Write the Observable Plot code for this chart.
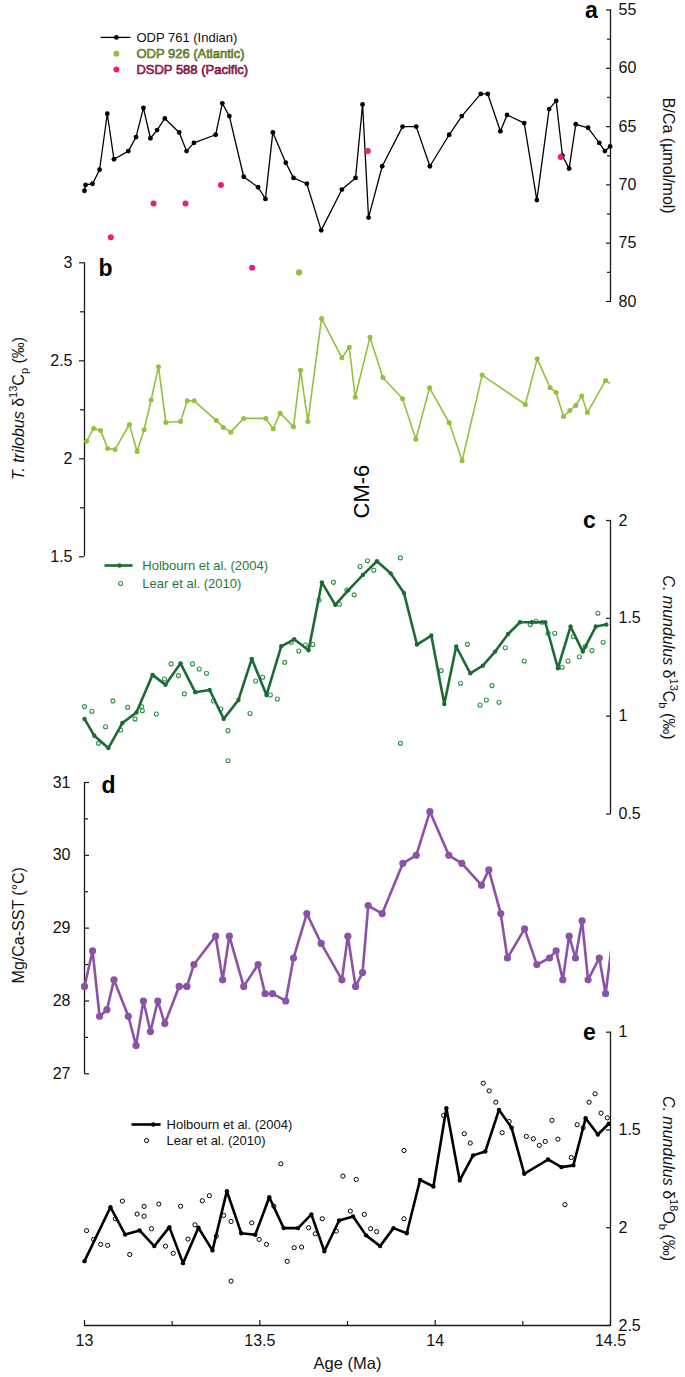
<!DOCTYPE html>
<html><head><meta charset="utf-8">
<script src="https://cdn.jsdelivr.net/npm/d3@7"></script>
<script src="https://cdn.jsdelivr.net/npm/@observablehq/plot@0.6"></script>
<style>
html,body{margin:0;padding:0;background:#fff;}
#chart{position:relative;width:685px;height:1377px;}
#chart svg{position:absolute;left:0;top:0;}
</style></head><body><div id="chart"></div>
<script>
// ---------- DATA ----------
// Panel a: B/Ca (µmol/mol)
const odp761Age = [13.0,13.003,13.023,13.043,13.065,13.084,13.125,13.147,13.168,13.188,13.207,13.229,13.27,13.291,13.312,13.374,13.393,13.413,13.454,13.495,13.516,13.537,13.574,13.596,13.634,13.675,13.734,13.773,13.793,13.81,13.849,13.907,13.946,13.985,14.04,14.076,14.13,14.15,14.186,14.205,14.254,14.29,14.325,14.345,14.363,14.382,14.401,14.436,14.468,14.484,14.499];
const odp761BCa = [70.5,70.0,69.9,68.7,63.9,67.8,67.1,65.9,63.4,66.0,65.3,64.3,65.5,67.1,66.4,65.7,63.0,64.1,69.3,70.2,71.2,65.5,68.1,69.4,69.9,73.9,70.4,69.4,63.1,72.8,68.4,65.0,65.0,68.4,65.7,64.1,62.2,62.2,65.4,64.0,64.7,71.3,63.5,62.8,67.5,68.6,64.8,65.1,66.4,67.1,66.7];
const dsdp588Age = [13.075,13.197,13.288,13.389,13.478,13.808,14.358];
const dsdp588BCa = [74.5,71.6,71.6,70.0,77.1,67.1,67.6];
const odp926Age = [13.612];
const odp926BCa = [77.5];
const aTicks = [55,60,65,70,75,80], aMinor = [57.5,62.5,67.5,72.5,77.5];

// Panel b: T. trilobus d13C
const bAge = [13.006,13.026,13.046,13.066,13.087,13.128,13.15,13.17,13.19,13.211,13.232,13.274,13.293,13.313,13.376,13.396,13.417,13.454,13.517,13.538,13.558,13.596,13.616,13.637,13.676,13.734,13.755,13.772,13.814,13.851,13.907,13.945,13.984,14.04,14.077,14.134,14.257,14.291,14.328,14.345,14.366,14.384,14.401,14.418,14.434,14.486,14.51];
const bD13C = [2.09,2.155,2.145,2.053,2.047,2.175,2.037,2.148,2.30,2.47,2.185,2.19,2.296,2.296,2.195,2.16,2.136,2.206,2.206,2.153,2.233,2.163,2.452,2.19,2.716,2.515,2.569,2.314,2.62,2.415,2.306,2.10,2.362,2.184,1.99,2.427,2.277,2.51,2.362,2.338,2.216,2.246,2.272,2.321,2.236,2.40,2.37];
const bTicks = [3,2.5,2,1.5], bMinor = [2.75,2.25,1.75];

// Panel c: C. mundulus d13C
const cHolAge = [13.0,13.028,13.068,13.108,13.148,13.194,13.231,13.274,13.316,13.357,13.397,13.439,13.477,13.519,13.561,13.598,13.639,13.677,13.715,13.752,13.794,13.834,13.873,13.911,13.948,13.989,14.026,14.06,14.1,14.136,14.171,14.208,14.242,14.276,14.314,14.35,14.386,14.421,14.458,14.488];
const cHolD13C = [0.986,0.900,0.837,0.965,1.019,1.211,1.160,1.270,1.122,1.134,0.986,1.083,1.293,1.108,1.357,1.393,1.337,1.684,1.569,1.643,1.722,1.792,1.730,1.630,1.366,1.412,1.062,1.356,1.219,1.258,1.330,1.420,1.480,1.480,1.480,1.245,1.458,1.330,1.458,1.468];
const cLearAge = [13.0,13.021,13.04,13.06,13.081,13.103,13.123,13.144,13.163,13.165,13.205,13.228,13.247,13.268,13.285,13.308,13.327,13.348,13.368,13.389,13.409,13.409,13.472,13.488,13.508,13.53,13.55,13.571,13.59,13.611,13.63,13.651,13.669,13.71,13.727,13.748,13.769,13.786,13.807,13.825,13.901,13.901,14.017,14.072,14.092,14.128,14.146,14.162,14.182,14.2,14.254,14.271,14.288,14.305,14.322,14.341,14.362,14.379,14.394,14.411,14.428,14.447,14.464,14.479];
const cLearD13C = [1.049,1.025,0.861,0.946,1.078,0.929,1.045,0.986,1.049,1.028,1.011,1.19,1.267,1.207,1.114,1.267,1.241,1.219,1.079,1.037,0.926,0.772,1.014,1.18,1.199,1.108,1.088,1.275,1.378,1.333,1.364,1.366,1.594,1.684,1.572,1.645,1.620,1.765,1.794,1.746,1.809,0.861,1.233,1.168,1.367,1.057,1.083,1.156,1.071,1.350,1.282,1.468,1.485,1.480,1.424,1.424,1.250,1.282,1.407,1.304,1.357,1.335,1.526,1.378];
const cTicks = [2,1.5,1,0.5];

// Panel d: Mg/Ca-SST (°C)
const dAge = [13.0,13.023,13.043,13.064,13.084,13.125,13.147,13.168,13.188,13.209,13.229,13.27,13.292,13.312,13.374,13.394,13.413,13.454,13.495,13.515,13.536,13.574,13.596,13.634,13.675,13.734,13.751,13.773,13.793,13.809,13.849,13.908,13.946,13.985,14.039,14.076,14.132,14.153,14.187,14.206,14.255,14.29,14.326,14.345,14.364,14.382,14.4,14.419,14.436,14.468,14.486,14.51];
const dSST = [28.20,28.69,27.79,27.88,28.29,27.79,27.39,28.0,27.58,28.0,27.69,28.20,28.20,28.50,28.89,28.29,28.89,28.20,28.50,28.10,28.10,28.0,28.59,29.20,28.79,28.29,28.89,28.20,28.39,29.31,29.20,29.89,30.0,30.60,30.0,29.89,29.59,29.80,29.20,28.59,28.99,28.50,28.59,28.69,28.29,28.89,28.59,29.10,28.29,28.59,28.10,29.0];
const dTicks = [31,30,29,28,27], dMinor = [30.5,29.5,28.5,27.5];

// Panel e: C. mundulus d18O
const eHolAge = [13.0,13.074,13.116,13.157,13.199,13.242,13.281,13.325,13.365,13.406,13.447,13.487,13.527,13.568,13.609,13.647,13.684,13.726,13.766,13.803,13.843,13.881,13.919,13.957,13.995,14.032,14.07,14.108,14.143,14.182,14.218,14.254,14.322,14.36,14.394,14.429,14.464,14.495];
const eHolD18O = [2.171,1.895,2.035,2.014,2.094,1.997,2.181,2.0,2.116,1.813,2.028,2.036,1.844,2.002,2.002,1.932,2.12,1.963,1.942,2.039,2.094,2.002,2.028,1.755,1.789,1.389,1.758,1.630,1.610,1.397,1.489,1.724,1.651,1.690,1.681,1.440,1.523,1.468];
const eLearAge = [13.006,13.026,13.046,13.066,13.088,13.108,13.129,13.15,13.17,13.17,13.191,13.212,13.231,13.253,13.274,13.295,13.315,13.336,13.356,13.376,13.397,13.418,13.418,13.477,13.498,13.519,13.54,13.56,13.578,13.598,13.619,13.639,13.658,13.678,13.718,13.737,13.758,13.775,13.798,13.816,13.833,13.911,13.911,14.024,14.083,14.1,14.137,14.154,14.173,14.191,14.211,14.26,14.28,14.297,14.314,14.333,14.35,14.37,14.388,14.405,14.422,14.439,14.456,14.473,14.491];
const eLearD18O = [2.015,2.06,2.085,2.09,1.954,1.864,2.137,1.930,1.891,1.941,2.005,1.879,2.094,2.131,1.890,2.058,1.985,1.862,1.836,2.043,1.937,1.968,2.273,1.975,2.06,2.085,1.890,1.673,2.172,2.102,2.099,2.0,2.031,1.954,2.017,1.736,1.915,1.753,1.932,2.005,2.02,1.954,1.605,1.426,1.519,1.567,1.261,1.300,1.358,1.514,1.457,1.533,1.545,1.579,1.559,1.451,1.547,1.882,1.641,1.473,1.489,1.358,1.315,1.414,1.438];
const eTicks = [1,1.5,2,2.5];

const xTicks = [13,13.5,14,14.5], xMinor = [13.25,13.75,14.25];
const xLabels = ["13","13.5","14","14.5"];

// ---------- BUILD ----------
const W = 685, H = 1377;
const FONT = "'Liberation Sans', Arial, Helvetica, sans-serif";
const AX = "#1a1a1a";
const TICKFS = 16, TITLEFS = 16;
const zip = (a, v) => a.map((d, i) => ({age: d, v: v[i]}));
const inDomain = d => d.age <= 14.5;
const fmt = d => String(d);

const COL = {
  pink: "#ec1c7a", lime: "#93c13e", dkgreen: "#1c6b34", green: "#2e9447",
  purple: "#8b52a8"
};

function panel(y, marks, opts = {}) {
  return Plot.plot({
    width: W, height: H,
    marginLeft: 84, marginRight: 75, marginTop: 0, marginBottom: opts.marginBottom ?? 0,
    x: Object.assign({domain: [13, 14.5], range: [84, 610]}, opts.xAxis ? {} : {axis: null}),
    y: y,
    style: {background: "transparent", fontFamily: FONT, fontSize: TICKFS + "px", overflow: "visible", color: "#111"},
    marks
  });
}
const K = v => () => v;

// axis helpers
function yAxis(anchor, ticks, minor, size, pad, lo, hi) {
  const edge = anchor === "right" ? 14.5 : 13;
  const m = [
    Plot.ruleX([edge], {y1: lo, y2: hi, stroke: AX, strokeWidth: 1.3}),
    Plot.axisY({anchor, ticks, tickFormat: fmt, tickSize: size, tickPadding: pad, label: null, fontSize: TICKFS, stroke: AX, strokeWidth: 1.2})
  ];
  if (minor) m.push(Plot.axisY({anchor, ticks: minor, tickSize: size * 0.8, fill: "none", label: null, stroke: AX, strokeWidth: 1.2}));
  return m;
}
function title(txt, x, y, dx, rot) {
  return Plot.text([txt], {x: K(x), y: K(y), dx, rotate: rot, text: d => d, fontSize: TITLEFS, fill: "#111"});
}
function letter(txt, x, y, dx, dy) {
  return Plot.text([txt], {x: K(x), y: K(y), dx, dy, text: d => d, fontSize: 23, fontWeight: "bold", fill: "#000"});
}

const A = zip(odp761Age, odp761BCa), P = zip(dsdp588Age, dsdp588BCa), G = zip(odp926Age, odp926BCa);
const legA = [57.35, 58.75, 60.1];
const svgA = panel({domain: [55, 80], range: [9.5, 301]}, [
  ...yAxis("right", aTicks, aMinor, -5, 13, 55, 80),
  Plot.line(A, {x: "age", y: "v", stroke: "#000", strokeWidth: 1.3}),
  Plot.dot(A, {x: "age", y: "v", r: 2.4, fill: "#000"}),
  Plot.dot(P, {x: "age", y: "v", r: 3, fill: COL.pink}),
  Plot.dot(G, {x: "age", y: "v", r: 3.2, fill: COL.lime}),
  title("B/Ca (µmol/mol)", 14.5, 67.5, 58, 90),
  letter("a", 14.5, 55, -19, 1),
  // legend
  Plot.link([0], {x1: K(13.046), x2: K(13.131), y1: K(legA[0]), y2: K(legA[0]), stroke: "#000", strokeWidth: 1.3}),
  Plot.dot([0], {x: K(13.091), y: K(legA[0]), r: 2.4, fill: "#000"}),
  Plot.dot([0], {x: K(13.091), y: K(legA[1]), r: 3, fill: COL.lime}),
  Plot.dot([0], {x: K(13.091), y: K(legA[2]), r: 3, fill: COL.pink}),
  Plot.text(["ODP 761 (Indian)"], {x: K(13.148), y: K(legA[0]), text: d => d, textAnchor: "start", fontSize: 13, fill: "#111"}),
  Plot.text(["ODP 926 (Atlantic)"], {x: K(13.148), y: K(legA[1]), text: d => d, textAnchor: "start", fontSize: 13, fill: "#8cbd3c", stroke: "#4a6418", strokeWidth: 0.6, paintOrder: "normal"}),
  Plot.text(["DSDP 588 (Pacific)"], {x: K(13.148), y: K(legA[2]), text: d => d, textAnchor: "start", fontSize: 13, fill: "#e01a76", stroke: "#5e0d33", strokeWidth: 0.6, paintOrder: "normal"})
]);

const B = zip(bAge, bD13C);
const svgB = panel({domain: [3, 1.5], range: [262.3, 556.3]}, [
  ...yAxis("left", bTicks, bMinor, 5, 7, 3, 1.5),
  Plot.line(B, {x: "age", y: "v", stroke: COL.lime, strokeWidth: 1.6, clip: true}),
  Plot.dot(B.filter(inDomain), {x: "age", y: "v", r: 2.5, fill: COL.lime}),
  title("T. trilobus δ13Cp (‰)", 13, 2.257, -66, -90),
  letter("b", 13, 3, 21, 6),
  Plot.text(["CM-6"], {x: K(13.792), y: K(1.833), rotate: -90, text: d => d, fontSize: 22, fill: "#000"})
]);

const CH = zip(cHolAge, cHolD13C), CL = zip(cLearAge, cLearD13C);
const svgC = panel({domain: [2, 0.5], range: [520, 813.5]}, [
  ...yAxis("right", cTicks, null, -5, 13, 2, 0.5),
  Plot.dot(CL, {x: "age", y: "v", r: 2, stroke: COL.green, strokeWidth: 1.1, fill: "none"}),
  Plot.line(CH, {x: "age", y: "v", stroke: COL.dkgreen, strokeWidth: 2.6}),
  Plot.dot(CH, {x: "age", y: "v", r: 2.2, fill: COL.dkgreen}),
  title("C. mundulus δ13Cb (‰)", 14.5, 1.30, 58, 90),
  letter("c", 14.5, 2, -21, 0),
  Plot.link([0], {x1: K(13.057), x2: K(13.137), y1: K(1.770), y2: K(1.770), stroke: COL.dkgreen, strokeWidth: 2.6}),
  Plot.dot([0], {x: K(13.10), y: K(1.770), r: 2.2, fill: COL.dkgreen}),
  Plot.dot([0], {x: K(13.103), y: K(1.678), r: 2, stroke: COL.green, strokeWidth: 1.1, fill: "none"}),
  Plot.text(["Holbourn et al. (2004)"], {x: K(13.165), y: K(1.770), text: d => d, textAnchor: "start", fontSize: 13, fill: "#237a3b"}),
  Plot.text(["Lear et al. (2010)"], {x: K(13.165), y: K(1.678), text: d => d, textAnchor: "start", fontSize: 13, fill: "#237a3b"})
]);

const D = zip(dAge, dSST);
const svgD = panel({domain: [31, 27], range: [782, 1073.3]}, [
  ...yAxis("left", dTicks, dMinor, -5, 19, 31, 27),
  Plot.line(D, {x: "age", y: "v", stroke: COL.purple, strokeWidth: 2.6, clip: true}),
  Plot.dot(D.filter(inDomain), {x: "age", y: "v", r: 3.6, fill: COL.purple}),
  title("Mg/Ca-SST (°C)", 13, 29.04, -66, -90),
  letter("d", 13, 31, 24, 3)
]);

const EH = zip(eHolAge, eHolD18O), EL = zip(eLearAge, eLearD18O);
const svgE = panel({domain: [1, 2.5], range: [1031.7, 1325]}, [
  ...yAxis("right", eTicks, null, -5, 13, 1, 2.5),
  Plot.ruleY([2.5], {x1: 13, x2: 14.5, stroke: AX, strokeWidth: 1.3}),
  Plot.axisX({anchor: "bottom", ticks: xTicks, tickFormat: (d, i) => xLabels[i], tickSize: -5, tickPadding: 14, label: null, fontSize: TICKFS, stroke: AX, strokeWidth: 1.2}),
  Plot.axisX({anchor: "bottom", ticks: xMinor, tickSize: -4, fill: "none", label: null, stroke: AX, strokeWidth: 1.2}),
  Plot.text(["Age (Ma)"], {x: K(13.75), y: K(2.5), dy: 38, text: d => d, fontSize: 16.5, fill: "#111"}),
  Plot.dot(EL, {x: "age", y: "v", r: 2.1, stroke: "#000", strokeWidth: 1, fill: "none"}),
  Plot.line(EH, {x: "age", y: "v", stroke: "#000", strokeWidth: 2.6}),
  Plot.dot(EH, {x: "age", y: "v", r: 2.2, fill: "#000"}),
  title("C. mundulus δ18Ob (‰)", 14.5, 1.748, 58, 90),
  letter("e", 14.5, 1, -21, 0),
  Plot.link([0], {x1: K(13.134), x2: K(13.217), y1: K(1.472), y2: K(1.472), stroke: "#000", strokeWidth: 2.6}),
  Plot.dot([0], {x: K(13.196), y: K(1.472), r: 2.2, fill: "#000"}),
  Plot.dot([0], {x: K(13.177), y: K(1.554), r: 2.1, stroke: "#000", strokeWidth: 1, fill: "none"}),
  Plot.text(["Holbourn et al. (2004)"], {x: K(13.234), y: K(1.472), text: d => d, textAnchor: "start", fontSize: 13, fill: "#111"}),
  Plot.text(["Lear et al. (2010)"], {x: K(13.234), y: K(1.554), text: d => d, textAnchor: "start", fontSize: 13, fill: "#111"})
], {xAxis: true, marginBottom: 52});

const svgs = [svgA, svgB, svgC, svgD, svgE];
const chart = document.getElementById("chart");
svgs.forEach(s => chart.appendChild(s));

// rich text (italics, super/subscripts) for axis titles
const NS = "http://www.w3.org/2000/svg";
function richify(key, parts) {
  svgs.forEach(svg => svg.querySelectorAll("text").forEach(t => {
    if (t.textContent !== key) return;
    while (t.firstChild) t.removeChild(t.firstChild);
    let shift = 0;
    parts.forEach(p => {
      const s = document.createElementNS(NS, "tspan");
      const target = p.sup ? -7 : p.sub ? 4 : 0;
      if (target !== shift) { s.setAttribute("dy", target - shift); shift = target; }
      if (p.sup || p.sub) s.setAttribute("font-size", "11");
      if (p.i) s.setAttribute("font-style", "italic");
      s.textContent = p.t;
      t.appendChild(s);
    });
  }));
}
richify("T. trilobus δ13Cp (‰)", [{t: "T. trilobus", i: true}, {t: " δ"}, {t: "13", sup: true}, {t: "C"}, {t: "p", sub: true}, {t: " (‰)"}]);
richify("C. mundulus δ13Cb (‰)", [{t: "C. mundulus", i: true}, {t: " δ"}, {t: "13", sup: true}, {t: "C"}, {t: "b", sub: true}, {t: " (‰)"}]);
richify("C. mundulus δ18Ob (‰)", [{t: "C. mundulus", i: true}, {t: " δ"}, {t: "18", sup: true}, {t: "O"}, {t: "b", sub: true}, {t: " (‰)"}]);
</script>
</body></html>
